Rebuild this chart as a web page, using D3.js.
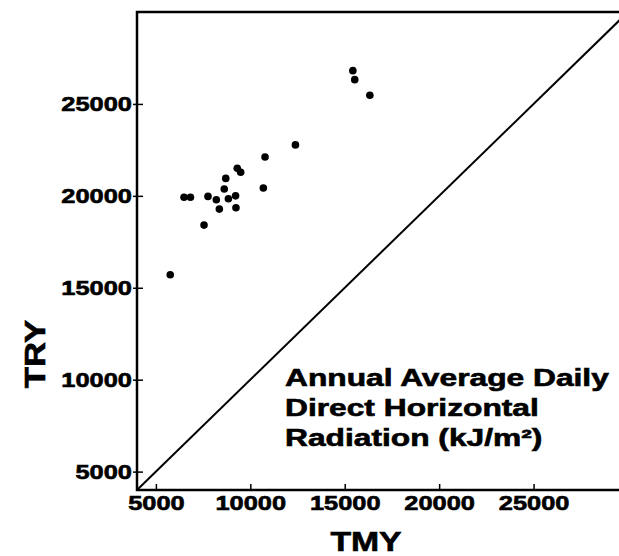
<!DOCTYPE html>
<html>
<head>
<meta charset="utf-8">
<script src="https://cdn.jsdelivr.net/npm/d3@7/dist/d3.min.js"></script>
<style>
body { margin: 0; background: #fff; }
text { font-family: "Liberation Sans", Arial, Helvetica, sans-serif; font-weight: bold; fill: #000; stroke: #000; stroke-width: 0.6; }
</style>
</head>
<body>
<script>
// TMY vs TRY scatter, annual average daily direct horizontal radiation

var tmyVals = [15430, 15530, 16330, 12390, 10780, 9310, 9490, 8700, 10690, 8620,
               6490, 6830, 7760, 8200, 8840, 9220, 8360, 9240, 7550, 5760];
var tryVals = [26810, 26320, 25470, 22770, 22110, 21500, 21280, 20950, 20430, 20370,
               19920, 19920, 19970, 19790, 19840, 20000, 19280, 19350, 18410, 15710];

var xTicks = [5000, 10000, 15000, 20000, 25000];
var yTicks = [5000, 10000, 15000, 20000, 25000];
var extent = [4000, 30000];
var noteLines = ["Annual Average Daily", "Direct Horizontal", "Radiation (kJ/m\u00B2)"];

var width = 619, height = 556;
var stretch = 1.27;   // lettering in the scan is wide

var svg = d3.select("body").append("svg")
    .attr("width", width)
    .attr("height", height);

var x = d3.scaleLinear().domain(extent).range([137, 628]);
var y = d3.scaleLinear().domain(extent).range([490, 12]);

// ====== AXES ======
var xAxis = svg.append("g")
    .attr("transform", "translate(0," + y(extent[0]) + ")")
    .call(d3.axisBottom(x).tickValues(xTicks).tickSize(-6).tickPadding(6).tickFormat(d3.format("d")));
xAxis.select(".domain").remove();
xAxis.selectAll(".tick line").attr("stroke", "#000").attr("stroke-width", 1.5);
xAxis.selectAll(".tick text")
    .attr("font-size", 20)
    .attr("transform", "scale(" + stretch + ",1)");

var yAxis = svg.append("g")
    .attr("transform", "translate(" + x(extent[0]) + ",0)")
    .call(d3.axisLeft(y).tickValues(yTicks).tickSize(4).tickFormat(d3.format("d")));
yAxis.select(".domain").remove();
yAxis.selectAll(".tick line")
    .attr("x1", -4).attr("x2", 6)
    .attr("stroke", "#000").attr("stroke-width", 1.5);
yAxis.selectAll(".tick text")
    .attr("x", -5 / stretch)
    .attr("font-size", 20)
    .attr("transform", "scale(" + stretch + ",1)");

// frame: left, bottom, top
var x0 = x(extent[0]), x1 = x(extent[1]), y0 = y(extent[0]), y1 = y(extent[1]);
svg.append("path")
    .attr("d", "M" + x1 + "," + y1 + "H" + x0 + "V" + y0 + "H" + x1)
    .attr("fill", "none")
    .attr("stroke", "#000")
    .attr("stroke-width", 2.5);

// 1:1 line
svg.append("line")
    .attr("x1", x(extent[0])).attr("y1", y(extent[0]))
    .attr("x2", x(extent[1])).attr("y2", y(extent[1]))
    .attr("stroke", "#000")
    .attr("stroke-width", 2);

// ====== POINTS ======
svg.selectAll(".pt")
    .data(tmyVals)
    .enter().append("circle")
        .attr("class", "pt")
        .attr("cx", function(d) { return x(d) })
        .attr("cy", function(d, i) { return y(tryVals[i]) })
        .attr("r", 3.8)
        .style("fill", "#000");

// ====== LABELS ======
svg.append("g")
    .attr("transform", "translate(366,551) scale(1.25,1)")
  .append("text")
    .attr("text-anchor", "middle")
    .attr("font-size", 27)
    .text("TMY");

svg.append("g")
    .attr("transform", "translate(45,354) rotate(-90) scale(1.2,1)")
  .append("text")
    .attr("text-anchor", "middle")
    .attr("font-size", 29)
    .text("TRY");

svg.selectAll(".note")
    .data(noteLines)
    .enter().append("g")
        .attr("class", "note")
        .attr("transform", function(d, i) { return "translate(285," + (386 + i * 30) + ") scale(1.38,1)" })
    .append("text")
        .attr("font-size", 23)
        .text(function(d) { return d });
</script>
</body>
</html>
